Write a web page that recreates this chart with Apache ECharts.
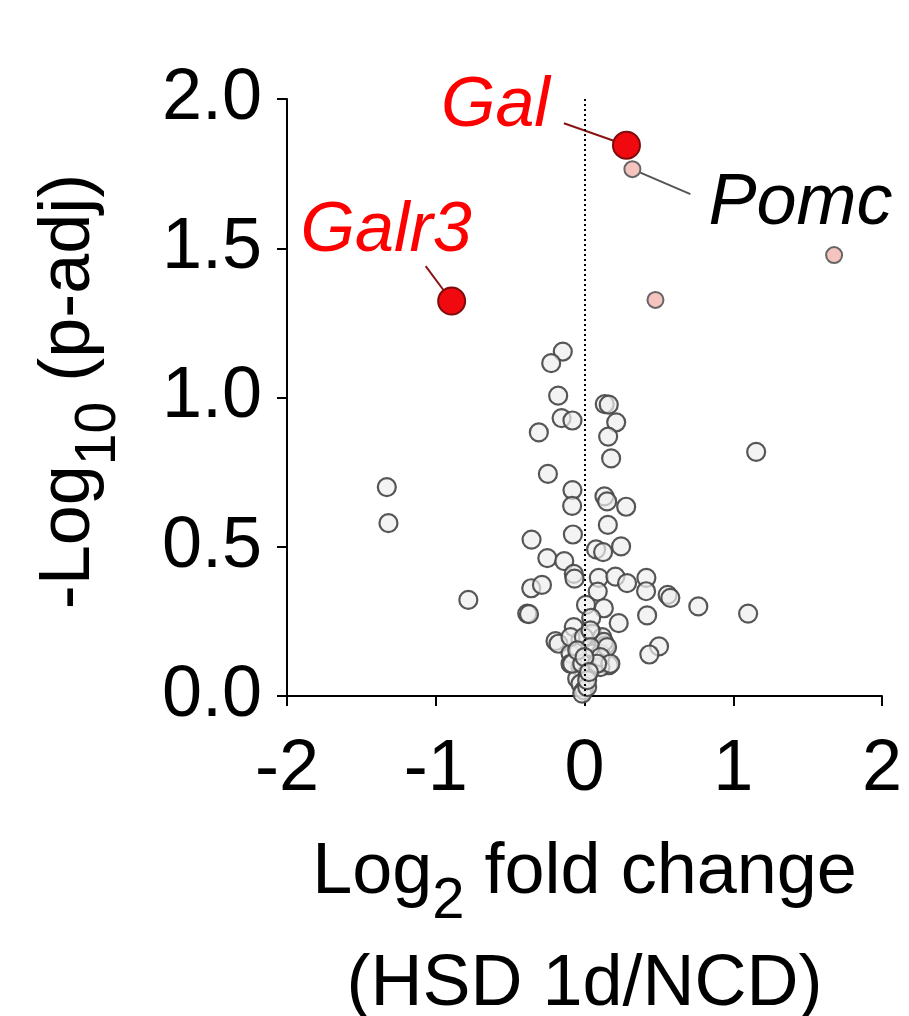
<!DOCTYPE html>
<html>
<head>
<meta charset="utf-8">
<script src="https://cdn.jsdelivr.net/npm/echarts@6/dist/echarts.min.js"></script>
<style>
html,body{margin:0;padding:0;background:#fff;overflow:hidden;width:909px;height:1016px;}
#chart{width:909px;height:1016px;}
</style>
</head>
<body>
<div id="chart"></div>
<script>
// ---- data ----
const xTicks = [-2, -1, 0, 1, 2];
const yTicks = [0.0, 0.5, 1.0, 1.5, 2.0];

// non-significant genes [log2FC, -log10 p-adj]
const grayGenes = [
  [-0.146,1.154],[-0.224,1.115],[-0.177,1.006],[-0.154,0.931],[-0.081,0.923],[-0.307,0.883],
  [0.136,0.978],[0.163,0.976],[0.213,0.917],[0.159,0.869],[0.179,0.796],[-0.246,0.744],
  [-1.329,0.700],[-1.318,0.579],[-0.081,0.690],[-0.083,0.637],[0.134,0.669],[0.152,0.652],
  [0.280,0.634],[0.157,0.573],[-0.356,0.524],[-0.078,0.541],[0.078,0.491],[0.125,0.482],
  [0.246,0.501],[-0.250,0.462],[-0.136,0.452],[-0.072,0.409],[-0.067,0.393],[0.096,0.396],
  [0.208,0.400],[0.286,0.378],[0.416,0.396],[0.414,0.351],[0.559,0.339],[0.577,0.329],
  [-0.358,0.361],[-0.286,0.372],[-0.781,0.322],[-0.385,0.276],[-0.373,0.274],
  [0.089,0.350],[0.010,0.305],[0.130,0.294],[0.045,0.262],[0.230,0.244],[0.421,0.270],
  [-0.072,0.231],[-0.195,0.184],[-0.175,0.175],[0.501,0.166],[0.436,0.139],
  [0.765,0.300],[1.100,0.276],[1.154,0.818],
  [-0.027,0.186],[0.052,0.209],[0.119,0.197],[0.141,0.170],[-0.094,0.142],[-0.038,0.153],
  [0.052,0.142],[0.107,0.142],[0.163,0.103],[-0.094,0.108],[-0.027,0.097],[0.052,0.097],
  [0.107,0.097],[-0.049,0.058],[0.018,0.064],[-0.027,0.041],[-0.004,0.019],[-0.015,0.008],
  [0.018,0.030],[-0.094,0.197],[0.130,0.181],[-0.004,0.197],[0.040,0.220],[0.040,0.164],
  [0.152,0.164],[0.107,0.130],[0.174,0.108],[-0.083,0.108],[-0.015,0.108],[0.085,0.108],
  [0.018,0.053],[-0.049,0.153],[0.000,0.130],[0.030,0.080]
];
// significant, unlabeled genes (pink)
const pinkGenes = [[0.477,1.327],[1.678,1.477]];
const pomc = [[0.322,1.765]];
const gal = [[0.282,1.845]];
const galr3 = [[-0.893,1.323]];

// ---- chart ----
const FONT = '"Liberation Sans", Arial, Helvetica, sans-serif';
const chart = echarts.init(document.getElementById('chart'), null, {renderer:'canvas', width:909, height:1016});

const geneText = (color, size) => ({fontSize:size, fontStyle:'italic', fontFamily:FONT, color:color, lineHeight:72});

chart.setOption({
  animation:false,
  backgroundColor:'#fff',
  grid:{left:287, top:99, width:595, height:597, containLabel:false, outerBoundsMode:'none'},
  xAxis:{
    type:'value', min:-2, max:2, interval:1,
    axisLine:{show:true, onZero:false, lineStyle:{color:'#000', width:2}},
    axisTick:{show:true, length:10, lineStyle:{color:'#000', width:2}},
    axisLabel:{fontSize:72, fontFamily:FONT, color:'#000', margin:38,
      formatter:v => xTicks.includes(v) ? String(v) : ''},
    splitLine:{show:false},
    name:'{a|Log}{s|2}{a| fold change}\n{a|(HSD 1d/NCD)}',
    nameLocation:'middle', nameGap:121,
    nameTextStyle:{align:'center', rich:{
      a:{fontSize:72, fontFamily:FONT, color:'#000', lineHeight:112},
      s:{fontSize:58, fontFamily:FONT, color:'#000', lineHeight:112, padding:[58,0,0,0]}
    }}
  },
  yAxis:{
    type:'value', min:0, max:2, interval:0.5,
    axisLine:{show:true, onZero:false, lineStyle:{color:'#000', width:2}},
    axisTick:{show:true, length:10, lineStyle:{color:'#000', width:2}},
    axisLabel:{fontSize:72, fontFamily:FONT, color:'#000', margin:25,
      formatter:v => yTicks.includes(v) ? v.toFixed(1) : ''},
    splitLine:{show:false},
    name:'{a|-Log}{s|10}{a| (p-adj)}',
    nameLocation:'middle', nameGap:173, nameRotate:90,
    nameTextStyle:{padding:[0,0,0,12], rich:{
      a:{fontSize:72, fontFamily:FONT, color:'#000', lineHeight:90},
      s:{fontSize:57, fontFamily:FONT, color:'#000', lineHeight:90, padding:[60,0,0,0]}
    }}
  },
  series:[
    {
      type:'scatter', name:'ns', data:grayGenes, symbolSize:18, z:2,
      itemStyle:{opacity:1, color:'rgba(238,238,238,0.7)', borderColor:'rgba(72,72,72,0.92)', borderWidth:2.2},
      markLine:{silent:true, symbol:'none', label:{show:false},
        lineStyle:{type:[2,3], color:'#000', width:2},
        data:[{xAxis:0}]}
    },
    {
      type:'scatter', name:'pink', data:pinkGenes, symbolSize:16, z:3,
      itemStyle:{opacity:1, color:'#f6c4be', borderColor:'#666', borderWidth:2}
    },
    {
      type:'scatter', name:'Pomc', data:pomc, symbolSize:16, z:3,
      itemStyle:{opacity:1, color:'#f6c4be', borderColor:'#666', borderWidth:2},
      label:{show:true, position:'inside',
        formatter:'{gap| }\n{sp| }{t|Pomc}',
        rich:{
          t:geneText('#000', 72),
          sp:{width:18, fontSize:8, lineHeight:72},
          gap:{fontSize:8, lineHeight:19, height:19}
        }},
      labelLayout:{dx:159, dy:25},
      labelLine:{show:true, lineStyle:{color:'#555', width:2}}
    },
    {
      type:'scatter', name:'Gal', data:gal, symbolSize:27, z:4,
      itemStyle:{opacity:1, color:'#f00a0f', borderColor:'#7d0c0c', borderWidth:2},
      label:{show:true, position:'inside',
        formatter:'{t|Gal}{sp| }\n{gap| }',
        rich:{
          t:Object.assign(geneText('#ff0000', 70), {lineHeight:70}),
          sp:{width:14, fontSize:8, lineHeight:70},
          gap:{fontSize:8, lineHeight:33, height:33}
        }},
      labelLayout:{dx:-124, dy:-22},
      labelLine:{show:true, lineStyle:{color:'#8a1414', width:2}}
    },
    {
      type:'scatter', name:'Galr3', data:galr3, symbolSize:27, z:4,
      itemStyle:{opacity:1, color:'#f00a0f', borderColor:'#7d0c0c', borderWidth:2},
      label:{show:true, position:'inside',
        formatter:'{t|Galr3}{sp| }',
        rich:{
          t:geneText('#ff0000', 70),
          sp:{width:79, fontSize:8, lineHeight:72}
        }},
      labelLayout:{dx:-26, dy:-70},
      labelLine:{show:true, lineStyle:{color:'#8a1414', width:2}}
    }
  ]
});
</script>
</body>
</html>
